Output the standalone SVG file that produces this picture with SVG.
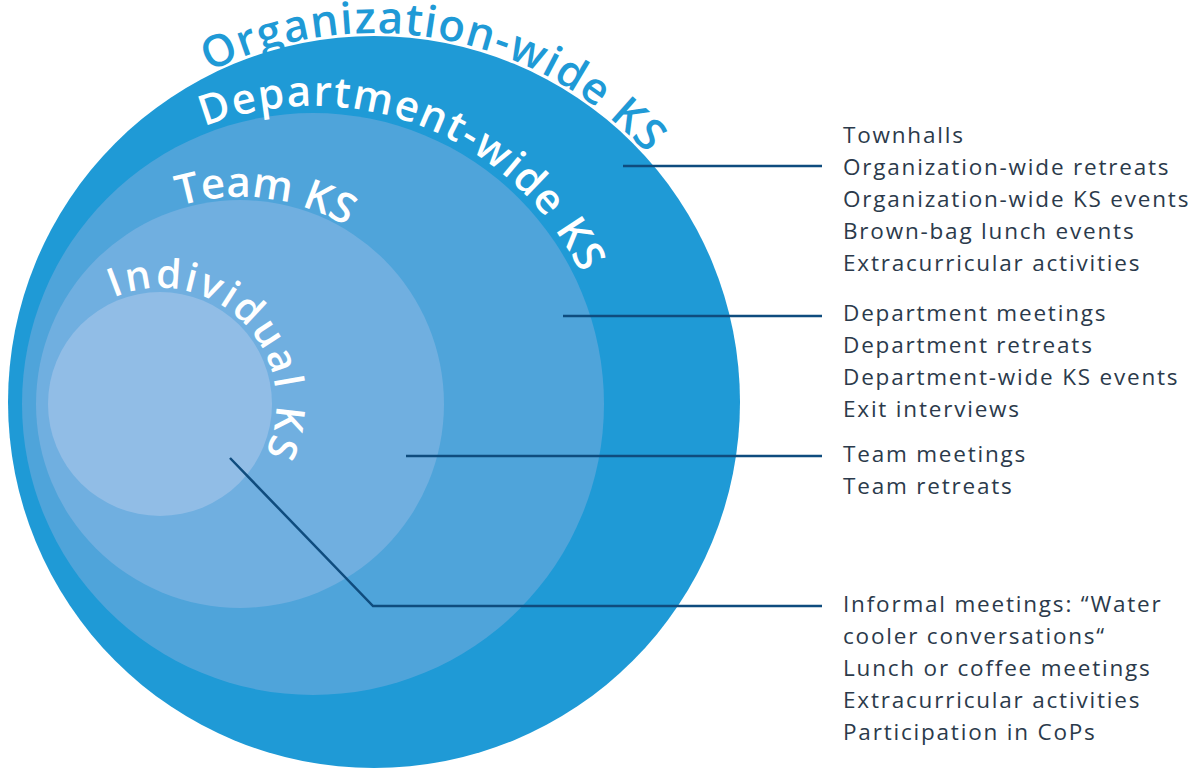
<svg xmlns="http://www.w3.org/2000/svg" width="1199" height="770" viewBox="0 0 1199 770">
<defs>
<style>
.lbl{font-family:"Open Sans","Liberation Sans",sans-serif;fill:#fff;font-weight:600}
.item{font-family:"Open Sans","Liberation Sans",sans-serif;font-size:22.5px;fill:#2b3a4b;letter-spacing:1.8px}
.conn{fill:none;stroke:#0f4c7e;stroke-width:2.5}
</style>
<path id="arcOrg" d="M209.4,71.8 A369,369 0 0 1 720.7,275.8"/>
<path id="arcDept" d="M204.3,126.5 A298,298 0 0 1 606.5,352.3"/>
<path id="arcTeam" d="M179.5,206 A207,207 0 0 1 419.3,300.5"/>
<path id="arcInd" d="M113.8,297.6 A116,116 0 0 1 218,504.5"/>
</defs>
<rect width="1199" height="770" fill="#fff"/>
<g id="org">
<circle cx="374" cy="402" r="366" fill="#1f9ad6"/>
<text class="lbl" style="fill:#1f9ad6;font-size:44px"><textPath href="#arcOrg" textLength="478" lengthAdjust="spacing">Organization-wide KS</textPath></text>
</g>
<g id="dept">
<circle cx="313" cy="404" r="291" fill="#4fa4da"/>
<text class="lbl" style="font-size:42px"><textPath href="#arcDept" textLength="444" lengthAdjust="spacing">Department-wide KS</textPath></text>
</g>
<g id="team">
<circle cx="240" cy="404" r="204" fill="#70afe0"/>
<text class="lbl" style="font-size:42px"><textPath href="#arcTeam" textLength="173" lengthAdjust="spacing">Team KS</textPath></text>
</g>
<g id="individual">
<circle cx="160" cy="404" r="112" fill="#91bde6"/>
<text class="lbl" style="font-size:40px"><textPath href="#arcInd" textLength="281" lengthAdjust="spacing">Individual KS</textPath></text>
</g>
<g id="connectors">
<path class="conn" d="M623,166 H822"/>
<path class="conn" d="M563,316 H822"/>
<path class="conn" d="M406,456 H822"/>
<path class="conn" d="M230,458 L373,606 H822"/>
</g>
<g id="list-org">
<text class="item" x="843" y="143">Townhalls</text>
<text class="item" x="843" y="175">Organization-wide retreats</text>
<text class="item" x="843" y="207">Organization-wide KS events</text>
<text class="item" x="843" y="239">Brown-bag lunch events</text>
<text class="item" x="843" y="271">Extracurricular activities</text>
</g>
<g id="list-dept">
<text class="item" x="843" y="321">Department meetings</text>
<text class="item" x="843" y="353">Department retreats</text>
<text class="item" x="843" y="385">Department-wide KS events</text>
<text class="item" x="843" y="417">Exit interviews</text>
</g>
<g id="list-team">
<text class="item" x="843" y="462">Team meetings</text>
<text class="item" x="843" y="494">Team retreats</text>
</g>
<g id="list-individual">
<text class="item" x="843" y="612">Informal meetings: “Water</text>
<text class="item" x="843" y="644">cooler conversations“</text>
<text class="item" x="843" y="676">Lunch or coffee meetings</text>
<text class="item" x="843" y="708">Extracurricular activities</text>
<text class="item" x="843" y="740">Participation in CoPs</text>
</g>
</svg>
